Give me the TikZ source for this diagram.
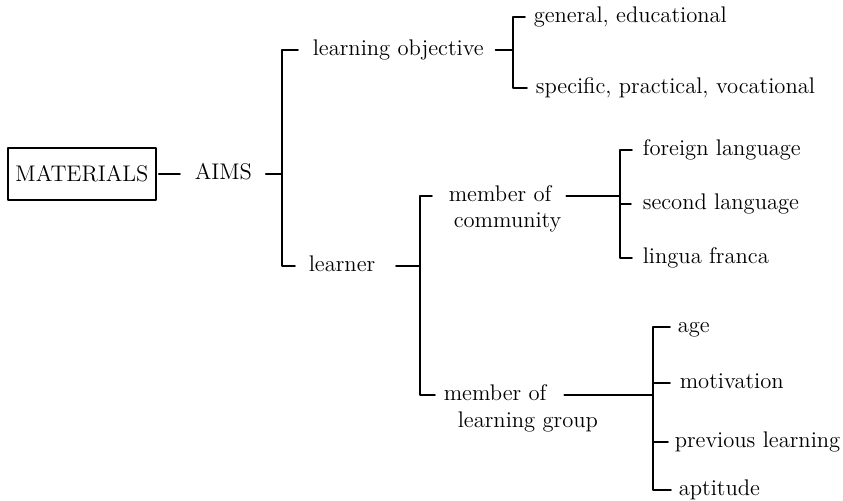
\documentclass[tikz,border=0pt]{standalone}
\usepackage{tikz}
\usetikzlibrary{positioning}
\begin{document}
\begin{tikzpicture}[line cap=round,line join=round,line width=0.8pt,x=0.5pt,y=-0.5pt,
  font=\fontsize{11.3}{13.5}\selectfont,
  txt/.style={inner sep=0pt,anchor=west,text height=1.6ex,text depth=0.4ex}]
\useasboundingbox (0,0) rectangle (843,501);
% main box
\node[draw,minimum width=74pt,minimum height=26pt,inner sep=0pt] (mat) at (82,174) {MATERIALS};
\node[txt] (aims) at (194,174) {AIMS};
\coordinate (jA) at (282,174);
\node[txt] (lobj) at (312,50) {learning objective};
\node[txt] (lrn) at (308,266) {learner};
% objectives
\coordinate (jB) at (513,50);
\node[txt] (gen) at (533,17) {general, educational};
\node[txt] (spec) at (535,88) {specific, practical, vocational};
% learner
\coordinate (jC) at (420,266);
\node[txt] (comm) at (448,196) {member\ of};
\node[txt] (comm2) at (453,222) {community};
\node[txt] (grp) at (443,395) {member of};
\node[txt] (grp2) at (457,422) {learning group};
\coordinate (jD) at (620,196);
\node[txt] (fl) at (642,150) {foreign language};
\node[txt] (sl) at (642,204) {second language};
\node[txt] (lf) at (642,258) {lingua franca};
\coordinate (jE) at (653,395);
\node[txt] (age) at (677,327) {age};
\node[txt] (mot) at (679,383) {motivation};
\node[txt] (prev) at (674,442) {previous learning};
\node[txt] (apt) at (678,490) {aptitude};
% connectors
\draw[shorten <=1pt,shorten >=7pt] (mat.east) -- (aims.west);
\draw[shorten <=6.5pt] (aims.east) -- (jA);
\draw ([xshift=-7pt]lobj.west) -- (jA |- lobj) -- (jA |- lrn) -- ([xshift=-6.5pt]lrn.west);
\draw[shorten <=5.5pt] (lobj.east) -- (jB);
\draw ([xshift=-4pt]gen.west) -- (jB |- gen) -- (jB |- spec) -- ([xshift=-4pt]spec.west);
\draw[shorten <=10pt] (lrn.east) -- (jC);
\draw ([xshift=-8pt]comm.west) -- (jC |- comm) -- (jC |- grp) -- ([xshift=-4pt]grp.west);
\draw[shorten <=7pt] (comm.east) -- (jD);
\draw ([xshift=-5pt]fl.west) -- (jD |- fl) -- (jD |- lf) -- ([xshift=-5pt]lf.west);
\draw ([xshift=-5.5pt]sl.west) -- (jD |- sl);
\draw[shorten <=8.5pt] (grp.east) -- (jE);
\draw ([xshift=-3.5pt]age.west) -- (jE |- age) -- (jE |- apt) -- ([xshift=-3.5pt]apt.west);
\draw ([xshift=-4.5pt]mot.west) -- (jE |- mot);
\draw ([xshift=-3pt]prev.west) -- (jE |- prev);
\end{tikzpicture}
\end{document}
